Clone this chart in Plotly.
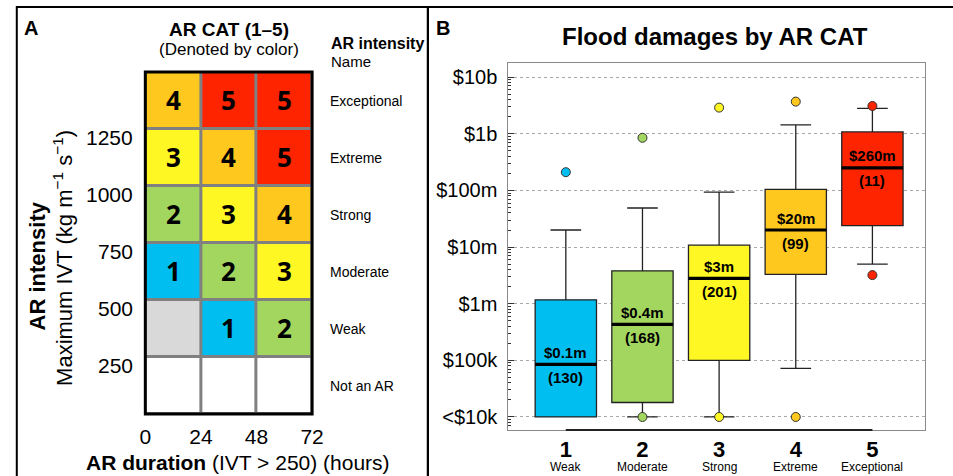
import math
import plotly.graph_objects as go

W, H = 953, 476
FONT = "Liberation Sans, Arial, sans-serif"

# ---------------- Panel A data ----------------
dur_centers = [12, 36, 60]
dur_ticks = [0, 24, 48, 72]
ivt_centers = [125, 375, 625, 875, 1125, 1375]
ivt_ticks = [250, 500, 750, 1000, 1250]
row_names = ["Not an AR", "Weak", "Moderate", "Strong", "Extreme", "Exceptional"]
# -1 = not an AR (white), 0 = below category (grey), 1..5 = AR CAT
cat_grid = [
    [-1, -1, -1],
    [0, 1, 2],
    [1, 2, 3],
    [2, 3, 4],
    [3, 4, 5],
    [4, 5, 5],
]
cat_colors = ["#FFFFFF", "#D9D9D9", "#00BFF0", "#A3D65F", "#FFF723", "#FFC81E", "#FF2400"]

# ---------------- Panel B data ----------------
cat_num = [1, 2, 3, 4, 5]
cat_names = ["Weak", "Moderate", "Strong", "Extreme", "Exceptional"]
q1 = [1.0e4, 1.8e4, 1.0e5, 3.3e6, 2.4e7]
median = [8.5e4, 4.3e5, 2.8e6, 2.0e7, 2.5e8]
q3 = [1.17e6, 3.8e6, 1.08e7, 1.04e8, 1.08e9]
lower = [1.0e4, 1.0e4, 1.0e4, 7.2e4, 5.0e6]
upper = [2.0e7, 4.9e7, 9.3e7, 1.44e9, 2.8e9]
outliers = [[2.1e8], [1.0e4, 8.5e8], [1.0e4, 2.9e9], [1.0e4, 3.7e9], [3.2e6, 3.1e9]]
median_labels = ["$0.1m", "$0.4m", "$3m", "$20m", "$260m"]
counts = [130, 168, 201, 99, 11]
y_tickvals = [1e4, 1e5, 1e6, 1e7, 1e8, 1e9, 1e10]
y_ticktext = ["<$10k", "$100k", "$1m", "$10m", "$100m", "$1b", "$10b"]
box_colors = cat_colors[2:]


def px_x(p):
    return p / W


def px_y(p):
    return 1 - p / H


fig = go.Figure()

# ---- Panel A heatmap ----
n = len(cat_colors)
zmin, zmax = -1.5, 5.5
cs = []
for i, c in enumerate(cat_colors):
    cs.append([i / n, c])
    cs.append([(i + 1) / n, c])
text_grid = [[str(v) if v > 0 else "" for v in row] for row in cat_grid]
fig.add_trace(go.Heatmap(
    x=dur_centers, y=ivt_centers, z=cat_grid, text=text_grid,
    texttemplate="<b>%{text}</b>",
    textfont=dict(size=26, color="black", family="Noto Sans, Liberation Sans, sans-serif"),
    colorscale=cs, zmin=zmin, zmax=zmax, showscale=False,
    xgap=3, ygap=3, hoverinfo="skip",
    xaxis="x", yaxis="y",
))

# ---- Panel B boxes ----
for i in range(len(cat_num)):
    fig.add_trace(go.Box(
        x=[cat_num[i]], q1=[q1[i]], median=[median[i]], q3=[q3[i]],
        lowerfence=[lower[i]], upperfence=[upper[i]],
        width=0.8, whiskerwidth=0.5, fillcolor=box_colors[i],
        line=dict(color="#222222", width=1.3), boxpoints=False,
        xaxis="x2", yaxis="y2", showlegend=False, hoverinfo="skip",
    ))
    fig.add_trace(go.Scatter(
        x=[cat_num[i] - 0.4, cat_num[i] + 0.4], y=[median[i], median[i]],
        mode="lines", line=dict(color="black", width=3.2),
        xaxis="x2", yaxis="y2", showlegend=False, hoverinfo="skip",
    ))
    fig.add_trace(go.Scatter(
        x=[cat_num[i]] * len(outliers[i]), y=outliers[i], mode="markers",
        marker=dict(size=9, color=box_colors[i], line=dict(color="#333333", width=1)),
        xaxis="x2", yaxis="y2", showlegend=False, hoverinfo="skip",
        cliponaxis=False,
    ))

annotations = []
shapes = []

for i in range(len(cat_num)):
    ly = math.log10(median[i])
    annotations.append(dict(x=cat_num[i], y=ly, xref="x2", yref="y2",
                            text="<b>%s</b>" % median_labels[i], showarrow=False,
                            xanchor="center", yanchor="middle", yshift=12,
                            font=dict(size=15, color="black", family=FONT)))
    annotations.append(dict(x=cat_num[i], y=ly, xref="x2", yref="y2",
                            text="<b>(%d)</b>" % counts[i], showarrow=False,
                            xanchor="center", yanchor="middle", yshift=-13,
                            font=dict(size=15, color="black", family=FONT)))
    annotations.append(dict(x=cat_num[i], y=0, xref="x2", yref="y2 domain",
                            text=cat_names[i], showarrow=False, xanchor="center",
                            yanchor="middle", yshift=-37,
                            font=dict(size=12, color="black", family=FONT)))

# panel A row names
for yc, name in zip(ivt_centers, row_names):
    annotations.append(dict(x=dur_ticks[-1], y=yc, xref="x", yref="y", text=name,
                            showarrow=False, xanchor="left", yanchor="middle", xshift=16,
                            font=dict(size=14, color="black", family=FONT)))

# panel A y tick labels (sit slightly below their grid lines in the reference)
for t in ivt_ticks:
    annotations.append(dict(x=0, y=t, xref="x", yref="y", text=str(t),
                            showarrow=False, xanchor="right", yanchor="middle",
                            xshift=-10, yshift=-8,
                            font=dict(size=21, color="black", family=FONT)))


def ptext(x, y, text, size, anchor="center", angle=0):
    return dict(x=px_x(x), y=px_y(y), xref="paper", yref="paper", text=text,
                showarrow=False, xanchor=anchor, yanchor="middle", textangle=angle,
                font=dict(size=size, family=FONT, color="black"))


annotations += [
    ptext(16, 28, "<b>A</b>", 20, "left"),
    ptext(436, 28, "<b>B</b>", 20, "left"),
    ptext(227, 29, "<b>AR CAT (1–5)</b>", 19),
    ptext(227, 50, "(Denoted by color)", 17),
    ptext(329, 43, "<b>AR intensity</b>", 16, "left"),
    ptext(329, 62, "Name", 15, "left"),
    ptext(32, 266, "<b>AR intensity</b>", 22, "center", -90),
    ptext(58, 258, "Maximum IVT (kg m<sup>−1</sup> s<sup>−1</sup>)", 22, "center", -90),
    ptext(236, 462, "<b>AR duration</b> (IVT > 250) (hours)", 21),
    ptext(723, 37, "<b>Flood damages by AR CAT</b>", 24),
]

shapes += [
    dict(type="rect", xref="x domain", yref="y domain", x0=0, x1=1, y0=0, y1=1,
         fillcolor="#808080", line=dict(width=0), layer="below"),
    dict(type="rect", xref="x domain", yref="y domain", x0=0, x1=1, y0=0, y1=1,
         line=dict(color="black", width=3), layer="above"),
    dict(type="rect", xref="paper", yref="paper", x0=px_x(11), x1=px_x(430),
         y0=-0.05, y1=px_y(7), line=dict(color="black", width=2)),
    dict(type="rect", xref="paper", yref="paper", x0=px_x(430), x1=1.05,
         y0=-0.05, y1=px_y(7), line=dict(color="black", width=2)),
    dict(type="line", xref="x2", yref="y2 domain", x0=cat_num[0], x1=cat_num[-1],
         y0=0, y1=0, line=dict(color="#222222", width=2)),
]

fig.update_layout(
    width=W, height=H,
    margin=dict(l=0, r=0, t=0, b=0),
    paper_bgcolor="white", plot_bgcolor="white",
    font=dict(family=FONT, color="black"),
    showlegend=False,
    xaxis=dict(domain=[px_x(142), px_x(312)], range=[0, 72], tickvals=dur_ticks,
               showgrid=False, zeroline=False, ticks="", tickfont=dict(size=21),
               ticklabelstandoff=8, fixedrange=True),
    yaxis=dict(domain=[px_y(414), px_y(72)], range=[0, 1500], tickvals=ivt_ticks,
               showticklabels=False, showgrid=False, zeroline=False, ticks="",
               fixedrange=True),
    xaxis2=dict(domain=[px_x(512), px_x(937)], range=[0.25, 5.69], tickvals=cat_num,
                ticktext=["<b>%d</b>" % c for c in cat_num], tickfont=dict(size=22),
                showgrid=False, zeroline=False, ticks="", showline=True,
                linecolor="#8a8a8a", linewidth=1, mirror=True, ticklabelstandoff=0,
                anchor="y2"),
    yaxis2=dict(domain=[px_y(430), px_y(63)], type="log", range=[3.77, 10.25],
                tickvals=y_tickvals, ticktext=y_ticktext, tickfont=dict(size=20),
                showgrid=True, gridcolor="#a8a8a8", griddash="dot", gridwidth=1,
                zeroline=False, ticks="inside", ticklen=6, tickcolor="#333333",
                showline=True, linecolor="#8a8a8a", linewidth=1, mirror=True,
                minor=dict(ticks="inside", ticklen=3, tickcolor="#333333",
                           dtick="D1", showgrid=False),
                ticklabelstandoff=6, anchor="x2"),
    annotations=annotations,
    shapes=shapes,
)

fig.write_html("out.html", config={"displayModeBar": False},
               post_script="document.body.style.margin='0px';")
